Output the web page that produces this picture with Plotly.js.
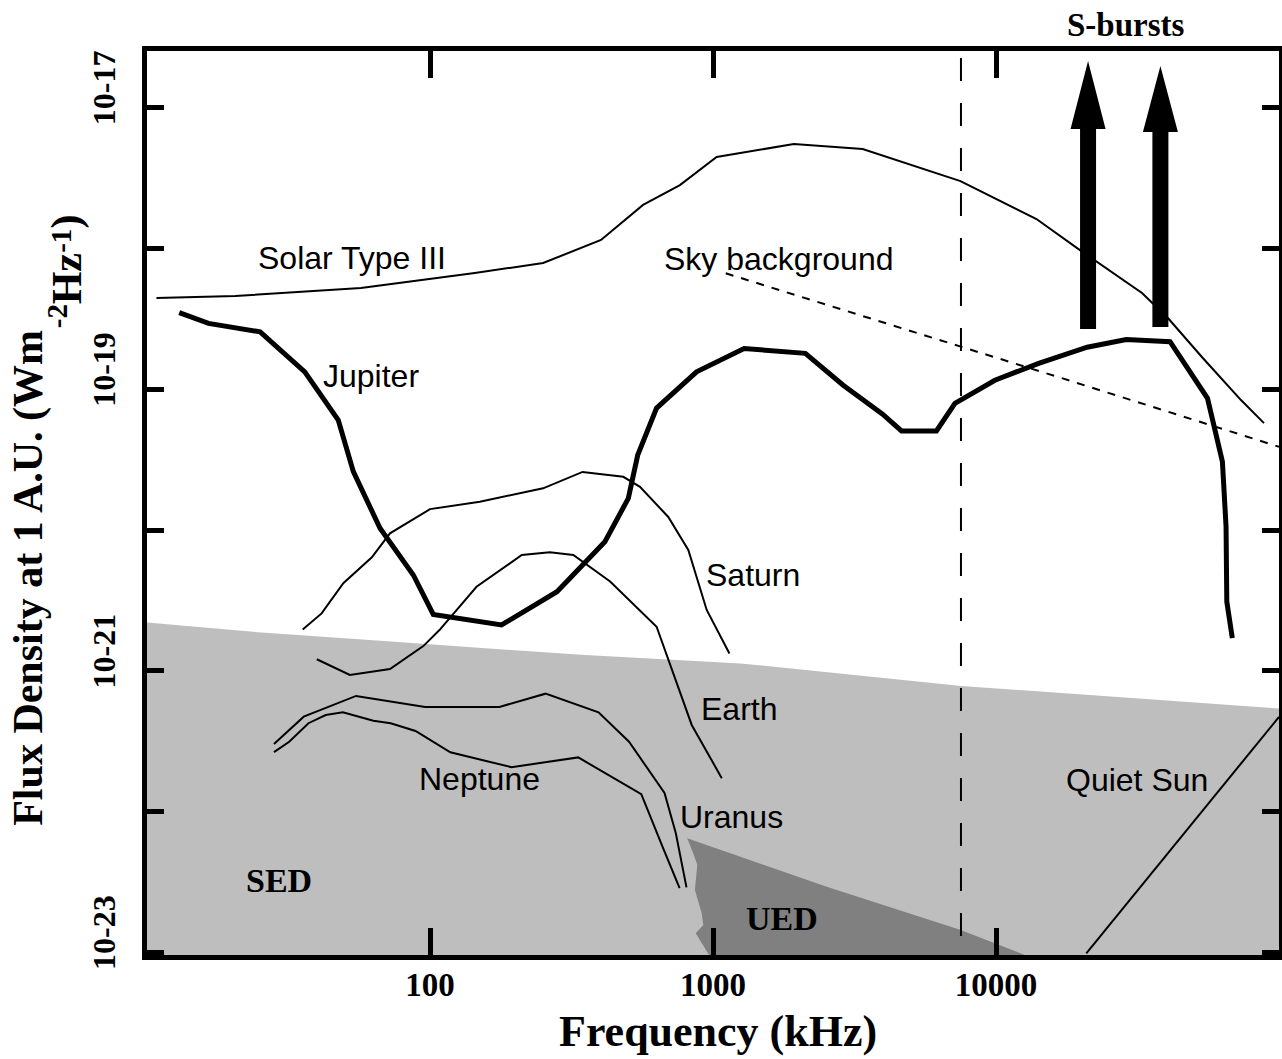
<!DOCTYPE html>
<html>
<head>
<meta charset="utf-8">
<script src="https://cdn.plot.ly/plotly-3.0.1.min.js"></script>
<style>
html,body{margin:0;padding:0;background:#fff;}
#chart{width:1282px;height:1059px;}
</style>
</head>
<body>
<div id="chart"></div>
<script>
// Frequencies in kHz, flux densities in W m^-2 Hz^-1 at 1 A.U.
const solarFreq = [10.8, 20.5, 57, 144, 251, 402, 566, 764, 1030, 1930, 3380, 7490, 13900, 19800, 32800, 40500, 53500, 73400, 88500];
const solarFlux = [4.45e-19, 4.60e-19, 5.25e-19, 6.70e-19, 7.89e-19, 1.15e-18, 2.04e-18, 2.82e-18, 4.47e-18, 5.52e-18, 5.09e-18, 3.01e-18, 1.62e-18, 9.75e-19, 4.83e-19, 3.21e-19, 1.69e-19, 8.39e-20, 5.75e-20];

const jupiterFreq = [13.0, 16.5, 25.1, 36.1, 47.4, 53.6, 66.6, 87.3, 102.7, 179, 281, 415, 502, 542, 632, 875, 1288, 2120, 2885, 3965, 4636, 6160, 7160, 9910, 14150, 21000, 28850, 41200, 55900, 63100, 65000, 65400, 68400];
const jupiterFlux = [3.50e-19, 2.94e-19, 2.56e-19, 1.33e-19, 6.05e-20, 2.60e-20, 1.03e-20, 4.80e-21, 2.52e-21, 2.12e-21, 3.65e-21, 8.28e-21, 1.68e-20, 3.41e-20, 7.36e-20, 1.33e-19, 1.95e-19, 1.80e-19, 1.07e-19, 6.68e-20, 5.06e-20, 5.06e-20, 7.96e-20, 1.16e-19, 1.53e-19, 1.99e-19, 2.26e-19, 2.18e-19, 8.63e-20, 3.06e-20, 1.06e-20, 3.10e-21, 1.71e-21];

const saturnFreq = [35.5, 41.4, 49.4, 62.3, 72.2, 100, 150, 251, 346, 482, 552, 695, 818, 950, 1143];
const saturnFlux = [1.97e-21, 2.56e-21, 4.19e-21, 6.41e-21, 9.49e-21, 1.41e-20, 1.59e-20, 1.98e-20, 2.59e-20, 2.39e-20, 2.03e-20, 1.24e-20, 7.23e-21, 2.71e-21, 1.33e-21];

const earthFreq = [39.8, 52.1, 72.2, 94.7, 108, 146, 211, 265, 321, 433, 632, 841, 1074];
const earthFlux = [1.21e-21, 9.35e-22, 1.03e-21, 1.50e-21, 1.95e-21, 3.96e-21, 6.65e-21, 6.95e-21, 6.65e-21, 4.31e-21, 2.06e-21, 4.13e-22, 1.73e-22];

const uranusFreq = [28.1, 35.8, 54.8, 96.1, 176, 256, 394, 505, 674, 739, 806];
const uranusFlux = [3.03e-22, 4.73e-22, 6.64e-22, 5.55e-22, 5.55e-22, 6.89e-22, 5.08e-22, 3.14e-22, 1.36e-22, 7.03e-23, 2.90e-23];

const neptuneFreq = [28.1, 31.8, 37.2, 42.8, 49.2, 63.1, 72.6, 88.9, 118, 194, 334, 558, 663, 762];
const neptuneFlux = [2.65e-22, 3.14e-22, 4.25e-22, 4.86e-22, 5.08e-22, 4.43e-22, 4.25e-22, 3.74e-22, 2.64e-22, 2.07e-22, 2.43e-22, 1.33e-22, 5.64e-23, 2.86e-23];

const skyFreq = [1109, 2831, 7499, 17090, 54550, 100000];
const skyFlux = [6.67e-19, 3.70e-19, 2.03e-19, 1.20e-19, 5.74e-20, 3.91e-20];

const quietSunFreq = [20850, 100000];
const quietSunFlux = [9.86e-24, 4.71e-22];

// Galactic (SED) and UED shaded limits
const sedFreq = [10, 25.4, 75, 341, 1250, 7550, 100000];
const sedTop = [2.21e-21, 1.87e-21, 1.61e-21, 1.30e-21, 1.13e-21, 7.82e-22, 5.40e-22];
const uedTopFreq = [811, 2523, 7464, 12650];
const uedTopFlux = [6.47e-23, 2.93e-23, 1.45e-23, 9.6e-24];
const uedEdgeFreq = [968, 869, 924, 912, 863, 880, 851];
const uedEdgeFlux = [9.6e-24, 1.37e-23, 1.57e-23, 1.90e-23, 2.78e-23, 4.19e-23, 5.06e-23];
const shadeFloor = 1e-24;

// Vertical limit line and S-burst arrows
const limitFreq = 7520;
const sBurstFreq = [21150, 38100];
const sBurstBase = [2.68e-19, 2.77e-19];

// Tick labels
const xTickVals = [100, 1000, 10000];
const xTickText = ['100', '1000', '10000'];
const yTickVals = [1e-23, 1e-21, 1e-19, 1e-17];
const yTickText = ['10-23', '10-21', '10-19', '10-17'];
const yMinorVals = [1e-22, 1e-20, 1e-18];

// Curve labels (data positions)
const labelText = ['Solar Type III', 'Sky background', 'Jupiter', 'Saturn', 'Earth', 'Neptune', 'Uranus', 'Quiet Sun'];
const labelFreq = [53.0, 1706, 61.7, 1380, 1236, 150, 1164, 31470];
const labelFlux = [8.55e-19, 8.41e-19, 1.24e-19, 4.80e-21, 5.32e-22, 1.71e-22, 9.20e-23, 1.67e-22];
const regionText = ['SED', 'UED'];
const regionFreq = [29.2, 1746];
const regionFlux = [3.22e-23, 1.75e-23];

const SANS = 'Liberation Sans, Arial, Helvetica, sans-serif';
const SERIF = 'Liberation Serif, Times New Roman, serif';

function line(x, y, width, dash) {
  return {x: x, y: y, type: 'scatter', mode: 'lines', hoverinfo: 'skip',
          line: {color: '#000', width: width, dash: dash || 'solid'}};
}

const sedPoly = {
  x: sedFreq.concat([sedFreq[sedFreq.length - 1], sedFreq[0]]),
  y: sedTop.concat([shadeFloor, shadeFloor]),
  type: 'scatter', mode: 'lines', fill: 'toself', fillcolor: '#bebebe',
  line: {width: 0, color: 'rgba(0,0,0,0)'}, hoverinfo: 'skip'
};
const uedPoly = {
  x: uedTopFreq.concat([uedTopFreq[uedTopFreq.length - 1], uedEdgeFreq[0]], uedEdgeFreq),
  y: uedTopFlux.concat([shadeFloor, shadeFloor], uedEdgeFlux),
  type: 'scatter', mode: 'lines', fill: 'toself', fillcolor: '#808080',
  line: {width: 0, color: 'rgba(0,0,0,0)'}, hoverinfo: 'skip'
};

const traces = [
  sedPoly, uedPoly,
  line(solarFreq, solarFlux, 2),
  line(skyFreq, skyFlux, 2, '8px,8px'),
  line(saturnFreq, saturnFlux, 2),
  line(earthFreq, earthFlux, 2),
  line(uranusFreq, uranusFlux, 2),
  line(neptuneFreq, neptuneFlux, 2),
  line(quietSunFreq, quietSunFlux, 2),
  line(jupiterFreq, jupiterFlux, 5)
];

const arrowStyle = [{head: 200, tip: 268}, {head: 195, tip: 261}];
const shapes = [{
  type: 'line', xref: 'x', yref: 'paper', x0: limitFreq, x1: limitFreq, y0: 1, y1: 0,
  line: {color: '#000', width: 2, dash: '0px,7px,23px,15px'}, layer: 'above'
}];
sBurstFreq.forEach(function(f, i) {
  const a = arrowStyle[i];
  shapes.push({
    type: 'path', xref: 'x', yref: 'y', xsizemode: 'pixel', ysizemode: 'pixel',
    xanchor: f, yanchor: sBurstBase[i],
    path: 'M-8,0 L8,0 L8,' + a.head + ' L17.5,' + a.head + ' L0,' + a.tip + ' L-17.5,' + a.head + ' L-8,' + a.head + ' Z',
    fillcolor: '#000', line: {width: 0}, layer: 'above'
  });
});

const annotations = [];
labelText.forEach(function(t, i) {
  annotations.push({text: t, xref: 'x', yref: 'y', x: Math.log10(labelFreq[i]), y: Math.log10(labelFlux[i]),
    showarrow: false, xanchor: 'center', yanchor: 'middle',
    font: {family: SANS, size: 32, color: '#000'}});
});
regionText.forEach(function(t, i) {
  annotations.push({text: '<b>' + t + '</b>', xref: 'x', yref: 'y', x: Math.log10(regionFreq[i]), y: Math.log10(regionFlux[i]),
    showarrow: false, xanchor: 'center', yanchor: 'middle',
    font: {family: SERIF, size: 34, color: '#000'}});
});
annotations.push({text: '<b>S-bursts</b>', xref: 'x', yref: 'paper', x: Math.log10(28770), y: 1.0288,
  showarrow: false, xanchor: 'center', yanchor: 'middle', font: {family: SERIF, size: 33, color: '#000'}});
annotations.push({text: '<b>Frequency (kHz)</b>', xref: 'paper', yref: 'paper', x: 0.504, y: -0.085,
  showarrow: false, xanchor: 'center', yanchor: 'middle', font: {family: SERIF, size: 44, color: '#000'}});

// y-axis title, drawn in pieces (the unit part sits lower, as in the original)
const yTitlePieces = [
  {text: 'Flux Density at 1 A.U. (Wm', x: -0.1044, y: 0.1405, size: 42},
  {text: '-2', x: -0.0793, y: 0.6914, size: 29},
  {text: 'Hz', x: -0.0708, y: 0.7179, size: 42},
  {text: '-1', x: -0.0767, y: 0.7747, size: 29},
  {text: ')', x: -0.0708, y: 0.8012, size: 42}
];
yTitlePieces.forEach(function(p) {
  annotations.push({text: '<b>' + p.text + '</b>', xref: 'paper', yref: 'paper', x: p.x, y: p.y, textangle: -90,
    showarrow: false, xanchor: 'center', yanchor: 'bottom', font: {family: SERIF, size: p.size, color: '#000'}});
});

const layout = {
  width: 1282, height: 1059,
  margin: {l: 147, r: 3, t: 51, b: 104, pad: 0},
  paper_bgcolor: '#ffffff', plot_bgcolor: '#ffffff',
  showlegend: false,
  xaxis: {
    type: 'log', range: [1, 5], showline: true, linewidth: 5, linecolor: '#000', mirror: 'ticks',
    ticks: 'inside', ticklen: 27, tickwidth: 5, tickcolor: '#000',
    tickmode: 'array', tickvals: xTickVals, ticktext: xTickText.map(function(s){return '<b>' + s + '</b>';}),
    tickfont: {family: SERIF, size: 33, color: '#000'},
    showgrid: false, zeroline: false, ticklabelstandoff: -4
  },
  yaxis: {
    type: 'log', range: [-23.018, -16.597], showline: true, linewidth: 5, linecolor: '#000', mirror: 'ticks',
    ticks: 'inside', ticklen: 17, tickwidth: 5, tickcolor: '#000',
    tickmode: 'array', tickvals: yTickVals, ticktext: yTickText.map(function(s){return '<b>' + s + '</b>';}),
    minor: {tickmode: 'array', tickvals: yMinorVals, ticks: 'inside', ticklen: 17, tickwidth: 5, tickcolor: '#000', showgrid: false},
    tickangle: -90, tickfont: {family: SERIF, size: 32, color: '#000'},
    showgrid: false, zeroline: false, ticklabelshift: -15, ticklabelstandoff: 14
  },
  shapes: shapes,
  annotations: annotations
};

Plotly.newPlot('chart', traces, layout, {staticPlot: true, displayModeBar: false});
</script>
</body>
</html>
